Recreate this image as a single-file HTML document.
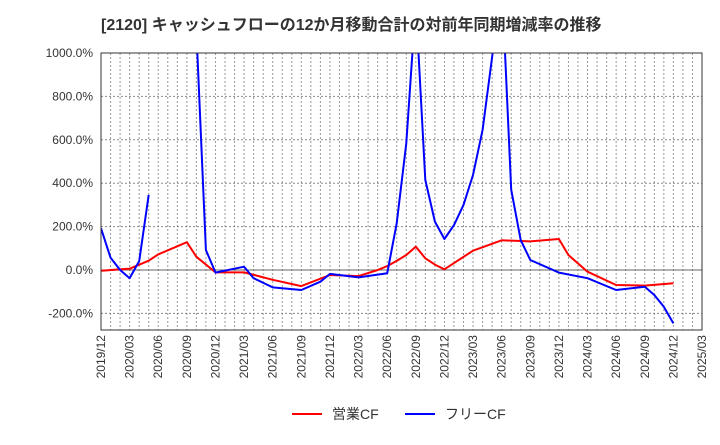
<!DOCTYPE html>
<html><head><meta charset="utf-8"><style>
body{margin:0;background:#fff;font-family:"Liberation Sans","Noto Sans CJK JP",sans-serif;}
svg text{font-family:"Liberation Sans","Noto Sans CJK JP",sans-serif;}
</style></head><body>
<svg id="chart" width="720" height="440" xmlns="http://www.w3.org/2000/svg">
<text x="101" y="30" font-size="16" font-weight="bold" fill="#333">[2120]  キャッシュフローの12か月移動合計の対前年同期増減率の推移</text>
<defs><clipPath id="clip"><rect x="101" y="53" width="601" height="277"/></clipPath></defs>
<g id="grid"></g>
<g id="yaxis"></g>
<g id="xaxis"></g>
<g id="series" clip-path="url(#clip)"></g>
<rect x="101" y="53" width="601" height="277" fill="none" stroke="#333" stroke-width="1"/>
<g>
<line x1="292" y1="414" x2="322" y2="414" stroke="#f00" stroke-width="2"/>
<text x="332" y="419" font-size="14" fill="#333">営業CF</text>
<line x1="405" y1="414" x2="435" y2="414" stroke="#00f" stroke-width="2"/>
<text x="445" y="419" font-size="14" fill="#333">フリーCF</text>
</g>
</svg>
<script>
const yTicks=[1000,800,600,400,200,0,-200];
const xTickLabels=["2019/12","2020/03","2020/06","2020/09","2020/12","2021/03","2021/06","2021/09","2021/12","2022/03","2022/06","2022/09","2022/12","2023/03","2023/06","2023/09","2023/12","2024/03","2024/06","2024/09","2024/12","2025/03"];
const redMonths=[0,3,5,6,9,10,12,15,18,21,24,27,29,30,31,32,33,34,35,36,39,42,45,48,49,51,54,57,60];
const redValues=[-3,6,43,72,128,61,-11,-11,-45,-74,-23,-28,0,18,42,69,108,54,25,3,89,137,132,143,69,-8,-69,-72,-61];
const blueMonths=[0,1,2,3,4,5,null,10,11,12,15,16,18,21,23,24,27,30,31,32,33,34,35,36,37,38,39,40,41,42,43,44,45,48,51,54,57,58,59,60];
const blueValues=[192,57,0,-38,41,346,null,1100,92,-12,15,-38,-80,-92,-54,-18,-34,-15,215,585,1230,415,223,143,207,300,438,646,980,1340,370,138,46,-12,-38,-92,-77,-115,-169,-246];
const X0=101,X1=702,Y0=53,Y1=330,NM=63;
const xs=m=>X0+(X1-X0)*m/NM;
const ys=v=>270-(v)*(270-53)/1000;
const NS="http://www.w3.org/2000/svg";
function mk(t,a,p){const e=document.createElementNS(NS,t);for(const k in a)e.setAttribute(k,a[k]);p.appendChild(e);return e;}
const grid=document.getElementById('grid'),ya=document.getElementById('yaxis'),xa=document.getElementById('xaxis'),se=document.getElementById('series');
for(let m=1;m<NM;m++){const l=mk('line',{x1:xs(m),x2:xs(m),y1:Y0,y2:Y1,stroke:'#999','stroke-dasharray':'2,2','stroke-width':1},grid);

}
yTicks.forEach(v=>{const l=mk('line',{x1:X0,x2:X1,y1:ys(v),y2:ys(v),stroke:v===0?'#666':'#888','stroke-dasharray':v===0?'':'2,2','stroke-width':1},grid);


const t=mk('text',{x:93,y:ys(v)+4,'text-anchor':'end','font-size':12,fill:'#333'},ya);t.textContent=v.toFixed(1)+'%';

});
xTickLabels.forEach((s,i)=>{const x=xs(i*3);const t=mk('text',{x:0,y:0,'text-anchor':'end','font-size':12,fill:'#333',transform:`translate(${x+4},335) rotate(-90)`},xa);t.textContent=s;

});
function draw(ms,vs,color,name){let d='',pen=false;ms.forEach((m,i)=>{const v=vs[i];if(m===null||v===null){pen=false;return;}d+=(pen?'L':'M')+xs(m).toFixed(1)+','+ys(v).toFixed(1);pen=true;});
const p=mk('path',{d:d,fill:'none',stroke:color,'stroke-width':2,'stroke-linejoin':'round'},se);

}
draw(redMonths,redValues,'#f00','operating-cf-line');
draw(blueMonths,blueValues,'#00f','free-cf-line');
</script>
</body></html>
